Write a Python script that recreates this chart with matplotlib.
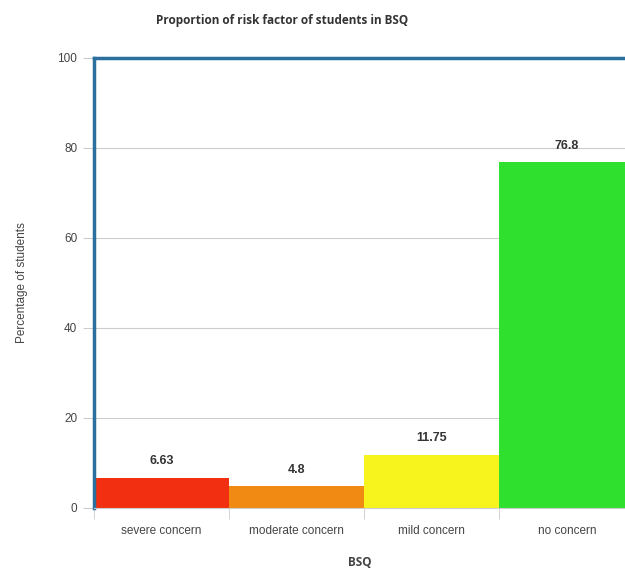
import matplotlib.pyplot as plt

# risk categories and their share of students
categories = ["severe concern", "moderate concern", "mild concern", "no concern"]
percentages = [6.63, 4.8, 11.75, 76.8]
bar_colors = ["#f22f10", "#f08a12", "#f6f41c", "#2fe02f"]
value_labels = ["6.63", "4.8", "11.75", "76.8"]
y_ticks = [0, 20, 40, 60, 80, 100]

plt.rcParams["font.family"] = "sans-serif"
plt.rcParams["font.sans-serif"] = ["Liberation Sans", "DejaVu Sans"]

fig = plt.figure(figsize=(6.25, 5.75), dpi=100)
ax = fig.add_axes([94 / 625, 67 / 575, 1 - 94 / 625, 450 / 575])

x = list(range(len(categories)))
ax.bar(x, percentages, width=1.0, color=bar_colors, zorder=2)

for xi, val, txt in zip(x, percentages, value_labels):
    ax.text(xi, val + 2.4, txt, ha="center", va="bottom",
            fontsize=9, fontweight="bold", color="#333333")

ax.set_xlim(-0.5, 3.43)
ax.set_ylim(0, 100)
ax.set_yticks(y_ticks)
ax.yaxis.grid(True, color="#cccccc", linewidth=0.8, zorder=0)

# category labels sit under bar centres, tick marks at the bar boundaries
ax.set_xticks(x)
ax.set_xticklabels(categories, fontsize=8.5, color="#444444")
ax.tick_params(axis="x", length=0, pad=12)
ax.set_xticks([i - 0.5 for i in x], minor=True)
ax.tick_params(axis="x", which="minor", length=8, color="#cccccc")
ax.tick_params(axis="y", length=8, color="#cccccc", labelsize=8.5,
               labelcolor="#444444", pad=4)

for side in ["left", "top"]:
    ax.spines[side].set_color("#2b6f9e")
    ax.spines[side].set_linewidth(2.5)
ax.spines["right"].set_visible(False)
ax.spines["bottom"].set_color("#cccccc")
ax.spines["bottom"].set_linewidth(0.8)

ax.set_ylabel("Percentage of students", fontsize=8.5, color="#444444", labelpad=21)
ax.set_xlabel("BSQ", fontsize=8.5, fontweight="bold", color="#444444", labelpad=14,
              family="Open Sans")
fig.text(282 / 625, 0.965, "Proportion of risk factor of students in BSQ", ha="center",
         va="center", fontsize=8.5, fontweight="bold", color="#333333",
         family="Open Sans")

fig.savefig("out.png", dpi=100, facecolor="white")
